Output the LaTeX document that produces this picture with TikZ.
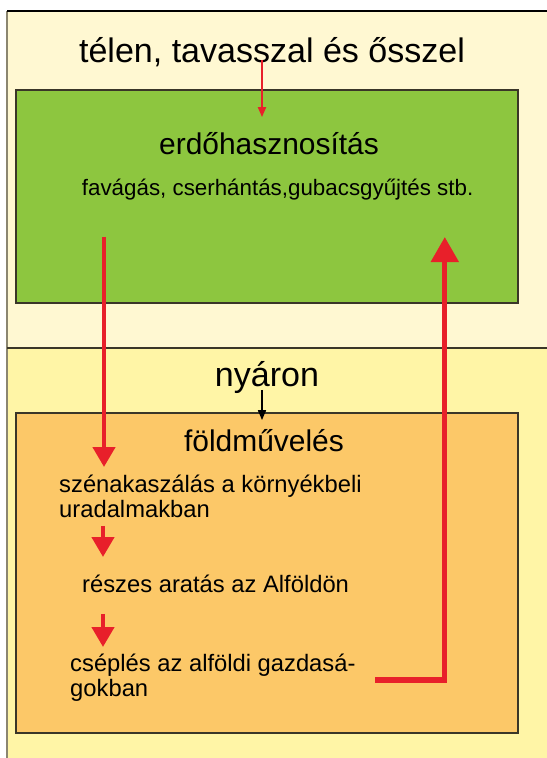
\documentclass[tikz,border=0pt]{standalone}
\usepackage{fontspec}
\setmainfont{Liberation Sans}
\usetikzlibrary{arrows.meta}
\definecolor{creambg}{HTML}{FFF8D2}
\definecolor{yellowbg}{HTML}{FFF5A6}
\definecolor{forestgreen}{HTML}{8DC63F}
\definecolor{fieldorange}{HTML}{FCC868}
\definecolor{arrowred}{HTML}{E8202A}
\definecolor{framegray}{HTML}{8B8670}
\definecolor{boxline}{HTML}{3A3628}
\begin{document}
\begin{tikzpicture}[x=1cm,y=1cm,line width=.35pt,
  season/.style={inner sep=0pt,font=\fontsize{24.2}{28}\selectfont},
  heading/.style={inner sep=0pt,font=\fontsize{21.3}{25}\selectfont},
  work/.style={inner sep=0pt,align=left,font=\fontsize{16.9}{17.8}\selectfont},
  thinarrow/.style={line width=1.05pt,-{Triangle[length=7pt,width=5.8pt]}},
  redarrow/.style={draw=arrowred,line width=3.2pt,-{Triangle[length=14.2pt,width=15.6pt]}},
  bigredarrow/.style={draw=arrowred,line width=3.6pt,-{Triangle[length=17.8pt,width=19.2pt]}}]
\useasboundingbox (0,0) rectangle (13.675,18.95);
% background bands
\fill[creambg] (0.175,10.25) rectangle (13.675,18.675);
\fill[yellowbg] (0.175,0) rectangle (13.675,10.25);
\draw[framegray,line width=1.4pt] (0.175,0)--(0.175,18.675);
\draw[black,line width=1.1pt] (0.175,18.675)--(13.675,18.675);
\draw[boxline,line width=1.4pt] (0.175,10.25)--(13.675,10.25);
% boxes
\filldraw[fill=forestgreen,draw=boxline,line width=1pt] (0.4,11.375) rectangle (12.95,16.7);
\filldraw[fill=fieldorange,draw=boxline,line width=1pt] (0.4,0.625) rectangle (12.95,8.625);
% texts
\node[season,anchor=base] (winter) at (6.8,17.375) {télen, tavasszal és ősszel};
\node[heading,anchor=base] (forest) at (6.725,15.075) {erdőhasznosítás};
\node[inner sep=0pt,anchor=base,font=\fontsize{15.9}{18}\selectfont] (forestwork) at (6.94,14.05) {favágás, cserhántás,gubacsgyűjtés stb.};
\node[season,anchor=base] (summer) at (6.675,9.275) {nyáron};
\node[heading,anchor=base] (farming) at (6.6,7.65) {földművelés};
% base of the last line
\node[work,anchor=base west] (hay) at (1.475,6.0) {szénakaszálás a környékbeli\\uradalmakban};
\node[work,anchor=base west] (harvest) at (2.05,4.125) {részes aratás az Alföldön};
\node[work,anchor=base west] (thresh) at (1.75,1.525) {cséplés az alföldi gazdasá-\\gokban};
% arrows
\coordinate (w1) at (6.55,17.45);
\coordinate (w2) at (6.55,16.025);
\draw[thinarrow,arrowred] (w1)--(w2);
\coordinate (s1) at (6.55,9.2);
\coordinate (s2) at (6.55,8.45);
\draw[thinarrow,black,line width=.8pt] (s1)--(s2);
\coordinate (down1) at (2.6,13.025);
\coordinate (down2) at (2.6,7.275);
\draw[redarrow] (down1)--(down2);
\coordinate (h1) at (2.575,5.8);
\coordinate (h2) at (2.575,5.025);
\draw[redarrow] (h1)--(h2);
\coordinate (t1) at (2.575,3.6);
\coordinate (t2) at (2.575,2.775);
\draw[redarrow] (t1)--(t2);
\coordinate (back1) at (9.375,1.95);
\coordinate (back2) at (11.12,13.025);
\draw[bigredarrow] (back1)--(back1-|back2)--(back2);
\end{tikzpicture}
\end{document}
